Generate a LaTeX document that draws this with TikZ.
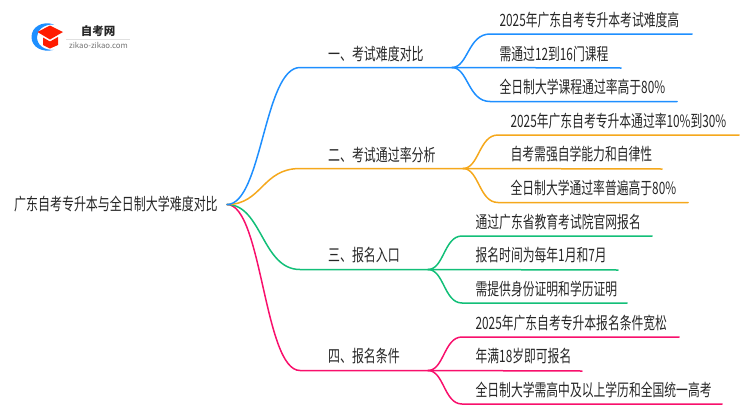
\documentclass[tikz,border=0pt]{standalone}
\usepackage{fontspec}
\setmainfont{Noto Sans CJK SC}
\definecolor{cblue}{HTML}{1E8FFF}
\definecolor{corange}{HTML}{F5A81C}
\definecolor{cgreen}{HTML}{12BF78}
\definecolor{cpink}{HTML}{F8106C}
\definecolor{ctext}{HTML}{262626}
\tikzset{
  lbl/.style={anchor=west,inner sep=0pt,text=ctext,text height=14.5pt,text depth=3pt,font=\fontsize{17}{20}\selectfont,xscale=.694,transform shape},
  wire/.style={line width=1.5pt,line cap=round},
}
\begin{document}
\begin{tikzpicture}[x=1pt,y=-1pt]
\useasboundingbox (0,0) rectangle (750,410);
% logo
\fill[cblue] (54,24.5) .. controls (42,20.5) and (31.5,27) .. (31.5,37) .. controls (31.5,47) and (42,53) .. (54,49.8) .. controls (44,50.5) and (37,45) .. (37,37) .. controls (37,30) and (44,24) .. (54,24.5) -- cycle;
\fill[red!78!orange] (50,25.5) -- (63,32) -- (50,39.5) -- (37.5,32) -- cycle;
\fill[red!78!orange] (43,37.5) -- (50,41.5) -- (58,37) -- (58,45) -- (50,48.5) -- (43,45) -- cycle;
\node[inner sep=0pt,text=ctext] (logoa) at (98,31) {\fontsize{11.5}{13}\selectfont\bfseries 自考网};
\draw[black!12,line width=.6pt] (66,39) -- (130,39);
\node[inner sep=0pt,text=black!55] (logob) at (98.5,45.5) {\fontsize{7.8}{9}\selectfont zikao-zikao.com};
% coordinates
\coordinate (r) at (227,204.5);
\coordinate (a0) at (300,67.5); \coordinate (a) at (452,67.5);
\coordinate (b0) at (300,168.5); \coordinate (b) at (463,168.5);
\coordinate (c0) at (300,269.5); \coordinate (c) at (428,269.5);
\coordinate (d0) at (300,370.5); \coordinate (d) at (428,370.5);
\coordinate (a1s) at (490,34); \coordinate (a1e) at (692,34);
\coordinate (a2e) at (621,68);
\coordinate (a3s) at (490,101.5); \coordinate (a3e) at (677,101.5);
\coordinate (b1s) at (498,135); \coordinate (b1e) at (739,135);
\coordinate (b2e) at (662,169);
\coordinate (b3s) at (498,202.5); \coordinate (b3e) at (688,202.5);
\coordinate (c1s) at (462,236); \coordinate (c1e) at (652,236);
\coordinate (c2e) at (618,270);
\coordinate (c3s) at (462,303); \coordinate (c3e) at (627,303);
\coordinate (d1s) at (462,337); \coordinate (d1e) at (679,337);
\coordinate (d2e) at (582,371);
\coordinate (d3s) at (462,404); \coordinate (d3e) at (722,404);
% wires
\draw[wire,cpink] (r) .. controls (262,204.5) and (264,370.5) .. (d0) -- (d);
\draw[wire,cgreen] (r) .. controls (262,204.5) and (262,269.5) .. (c0) -- (c);
\draw[wire,corange] (r) .. controls (262,204.5) and (262,168.5) .. (b0) -- (b);
\draw[wire,cblue] (r) .. controls (262,204.5) and (264,67.5) .. (a0) -- (a);
\draw[wire,cblue] (a) .. controls (468,67.5) and (468,34) .. (a1s) -- (a1e);
\draw[wire,cblue] (a) -- (a2e);
\draw[wire,cblue] (a) .. controls (468,67.5) and (468,101.5) .. (a3s) -- (a3e);
\draw[wire,corange] (b) .. controls (479,168.5) and (479,135) .. (b1s) -- (b1e);
\draw[wire,corange] (b) -- (b2e);
\draw[wire,corange] (b) .. controls (479,168.5) and (479,202.5) .. (b3s) -- (b3e);
\draw[wire,cgreen] (c) .. controls (444,269.5) and (444,236) .. (c1s) -- (c1e);
\draw[wire,cgreen] (c) -- (c2e);
\draw[wire,cgreen] (c) .. controls (444,269.5) and (444,303) .. (c3s) -- (c3e);
\draw[wire,cpink] (d) .. controls (444,370.5) and (444,337) .. (d1s) -- (d1e);
\draw[wire,cpink] (d) -- (d2e);
\draw[wire,cpink] (d) .. controls (444,370.5) and (444,404) .. (d3s) -- (d3e);
% labels
\node[lbl,xscale=1.015] (root) at (14,205) {广东自考专升本与全日制大学难度对比};
\node[lbl,xscale=1.012] (la) at (328,54.5) {一、考试难度对比};
\node[lbl,xscale=1.012] (lb) at (328,155.5) {二、考试通过率分析};
\node[lbl,xscale=1.012] (lc) at (328,256) {三、报名入口};
\node[lbl,xscale=1.012] (ld) at (328,357) {四、报名条件};
\node[lbl] (ta) at (499.5,20.5) {2025年广东自考专升本考试难度高};
\node[lbl] (tb) at (499.5,54.5) {需通过12到16门课程};
\node[lbl] (tc) at (499.5,88) {全日制大学课程通过率高于80\%};
\node[lbl] (td) at (510.5,121.5) {2025年广东自考专升本通过率10\%到30\%};
\node[lbl] (te) at (510.5,155) {自考需强自学能力和自律性};
\node[lbl] (tf) at (510.5,188.5) {全日制大学通过率普遍高于80\%};
\node[lbl] (tg) at (475.5,222.5) {通过广东省教育考试院官网报名};
\node[lbl] (th) at (475.5,256) {报名时间为每年1月和7月};
\node[lbl] (ti) at (475.5,289.5) {需提供身份证明和学历证明};
\node[lbl] (tj) at (475.5,323.5) {2025年广东自考专升本报名条件宽松};
\node[lbl] (tk) at (475.5,357) {年满18岁即可报名};
\node[lbl] (tl) at (475.5,390.5) {全日制大学需高中及以上学历和全国统一高考};
\end{tikzpicture}
\end{document}
